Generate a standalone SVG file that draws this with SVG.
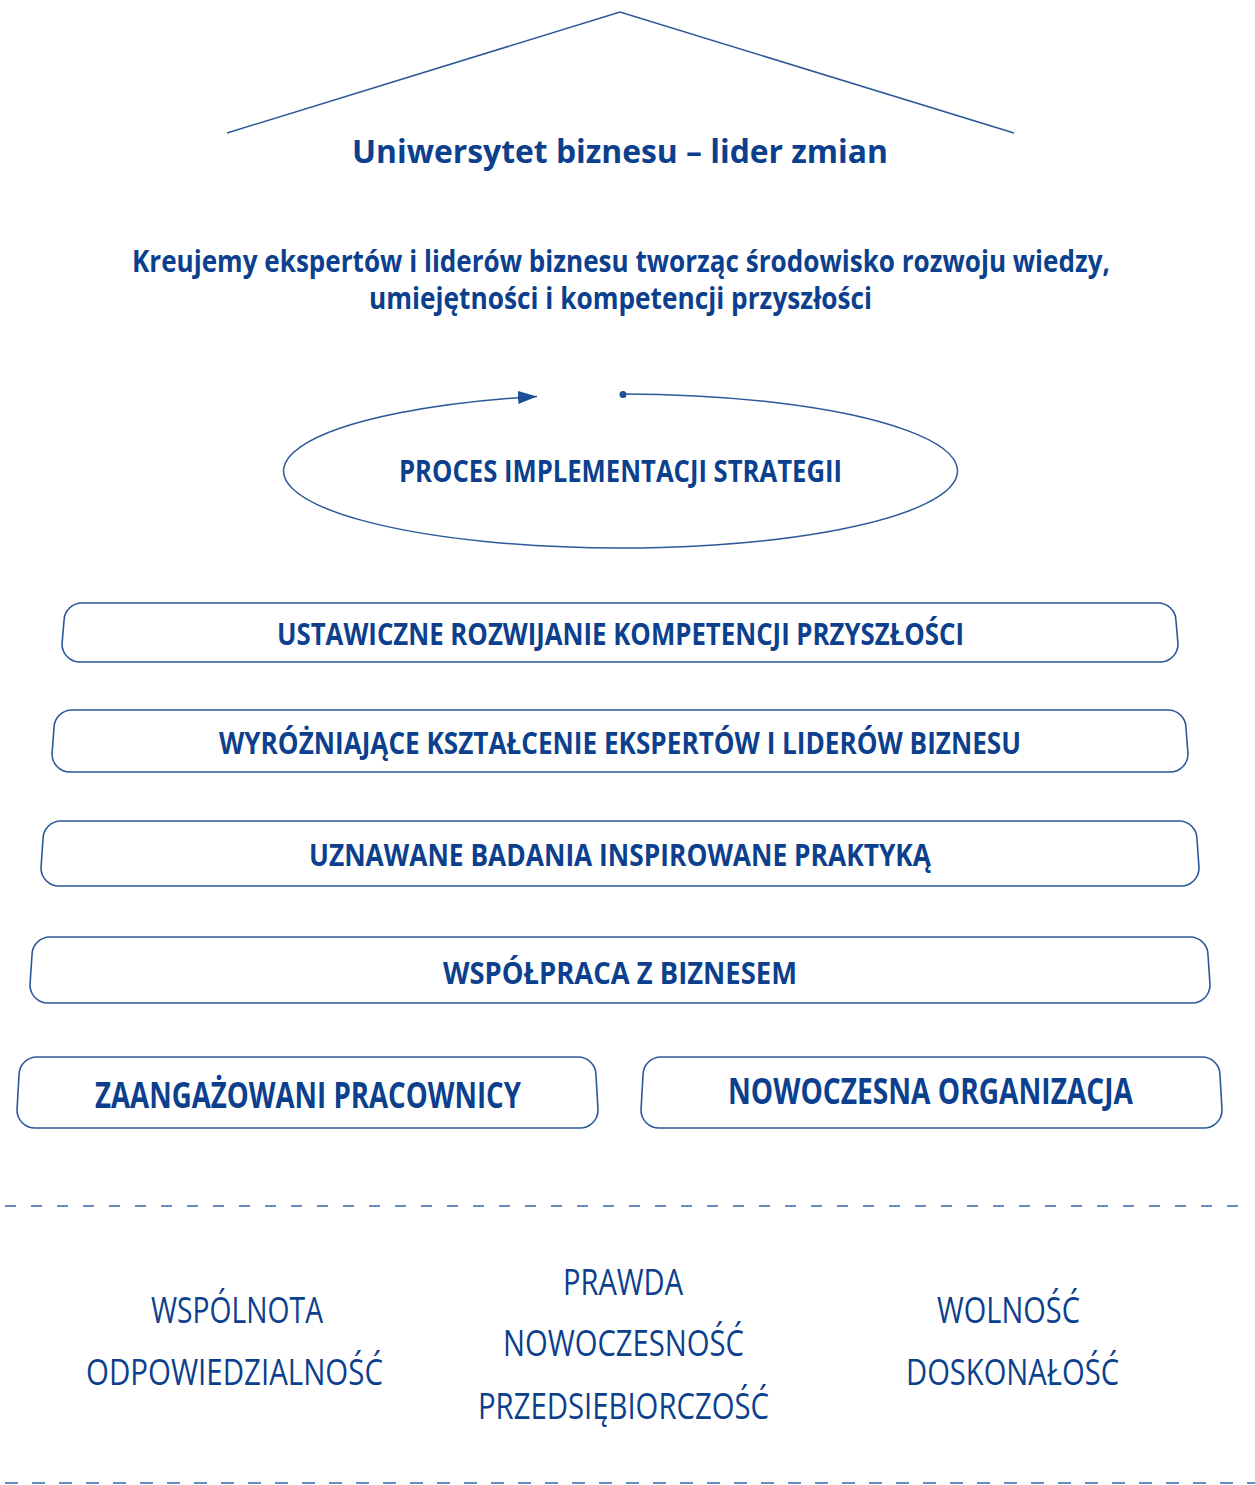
<svg xmlns="http://www.w3.org/2000/svg" width="1255" height="1485" viewBox="0 0 1255 1485">
<style>
  .t { font-family: "Open Sans", "Liberation Sans", sans-serif; fill: #0c3f8d; text-anchor: middle; }
  .b { font-weight: 700; }
  .sb { font-weight: 700; font-size: 31px; }
  .v { font-weight: 400; font-size: 37px; }
  .ln { fill: none; stroke: #2b5898; stroke-width: 1.5; }
  .box { fill: #ffffff; stroke: #2b5898; stroke-width: 1.6; }
  .dash { fill: none; stroke: #3568ad; stroke-width: 1.5; }
</style>
<defs>
  <marker id="arr" markerUnits="userSpaceOnUse" viewBox="0 0 19 13" refX="19" refY="6.5" markerWidth="19" markerHeight="13" orient="auto">
    <path d="M0,0 L19,6.5 L0,13 Z" fill="#1d4f95"/>
  </marker>
</defs>
<rect width="1255" height="1485" fill="#ffffff"/>

<g id="roof">
  <path class="ln" d="M227,133 L620,12 L1014,133"/>
  <text class="t b" x="620" y="163" font-size="33" textLength="536" lengthAdjust="spacingAndGlyphs">Uniwersytet biznesu – lider zmian</text>
</g>

<g id="mission">
  <text class="t b" x="621" y="272" font-size="30" textLength="978" lengthAdjust="spacingAndGlyphs">Kreujemy ekspertów i liderów biznesu tworząc środowisko rozwoju wiedzy,</text>
  <text class="t b" x="620.5" y="309" font-size="30" textLength="503" lengthAdjust="spacingAndGlyphs">umiejętności i kompetencji przyszłości</text>
</g>

<g id="connectors">
  <path class="ln" d="M623,394 A337,77 0 1 1 537,396.4" marker-end="url(#arr)"/>
  <circle cx="623" cy="394.5" r="3.5" fill="#1d4f95"/>
</g>

<g id="process">
  <text class="t b" x="620.5" y="482" font-size="31" textLength="443" lengthAdjust="spacingAndGlyphs">PROCES IMPLEMENTACJI STRATEGII</text>
</g>

<g id="box1">
  <path class="box" d="M82,603 H1158 A18,18 0 0 1 1176,621 L1178,644 A18,18 0 0 1 1160,662 H80 A18,18 0 0 1 62,644 L64,621 A18,18 0 0 1 82,603 Z"/>
  <text class="t sb" x="620.5" y="645" textLength="687" lengthAdjust="spacingAndGlyphs">USTAWICZNE ROZWIJANIE KOMPETENCJI PRZYSZŁOŚCI</text>
</g>

<g id="box2">
  <path class="box" d="M72,710 H1168 A18,18 0 0 1 1186,728 L1188,754 A18,18 0 0 1 1170,772 H70 A18,18 0 0 1 52,754 L54,728 A18,18 0 0 1 72,710 Z"/>
  <text class="t sb" x="620" y="754" textLength="802" lengthAdjust="spacingAndGlyphs">WYRÓŻNIAJĄCE KSZTAŁCENIE EKSPERTÓW I LIDERÓW BIZNESU</text>
</g>

<g id="box3">
  <path class="box" d="M61,821 H1179 A18,18 0 0 1 1197,839 L1199,868 A18,18 0 0 1 1181,886 H59 A18,18 0 0 1 41,868 L43,839 A18,18 0 0 1 61,821 Z"/>
  <text class="t sb" x="620" y="866" textLength="622" lengthAdjust="spacingAndGlyphs">UZNAWANE BADANIA INSPIROWANE PRAKTYKĄ</text>
</g>

<g id="box4">
  <path class="box" d="M50,937 H1190 A18,18 0 0 1 1208,955 L1210,985 A18,18 0 0 1 1192,1003 H48 A18,18 0 0 1 30,985 L32,955 A18,18 0 0 1 50,937 Z"/>
  <text class="t sb" x="620" y="984" textLength="354" lengthAdjust="spacingAndGlyphs">WSPÓŁPRACA Z BIZNESEM</text>
</g>

<g id="box5a">
  <path class="box" d="M37,1057 H578 A18,18 0 0 1 596,1075 L598,1110 A18,18 0 0 1 580,1128 H35 A18,18 0 0 1 17,1110 L19,1075 A18,18 0 0 1 37,1057 Z"/>
  <text class="t b" x="308" y="1108" font-size="35" textLength="426" lengthAdjust="spacingAndGlyphs">ZAANGAŻOWANI PRACOWNICY</text>
</g>

<g id="box5b">
  <path class="box" d="M661,1057 H1202 A18,18 0 0 1 1220,1075 L1222,1110 A18,18 0 0 1 1204,1128 H659 A18,18 0 0 1 641,1110 L643,1075 A18,18 0 0 1 661,1057 Z"/>
  <text class="t b" x="930.5" y="1104" font-size="35" textLength="405" lengthAdjust="spacingAndGlyphs">NOWOCZESNA ORGANIZACJA</text>
</g>

<g id="separators">
  <line class="dash" x1="5" y1="1206" x2="1240" y2="1206" stroke-dasharray="11 15"/>
  <line class="dash" x1="5" y1="1483" x2="1255" y2="1483" stroke-dasharray="13 14"/>
</g>

<g id="values">
  <text class="t v" x="237" y="1323" textLength="172" lengthAdjust="spacingAndGlyphs">WSPÓLNOTA</text>
  <text class="t v" x="234.5" y="1385" textLength="297" lengthAdjust="spacingAndGlyphs">ODPOWIEDZIALNOŚĆ</text>
  <text class="t v" x="623" y="1295" textLength="120" lengthAdjust="spacingAndGlyphs">PRAWDA</text>
  <text class="t v" x="623.5" y="1356" textLength="241" lengthAdjust="spacingAndGlyphs">NOWOCZESNOŚĆ</text>
  <text class="t v" x="623.5" y="1419" textLength="291" lengthAdjust="spacingAndGlyphs">PRZEDSIĘBIORCZOŚĆ</text>
  <text class="t v" x="1008.5" y="1323" textLength="143" lengthAdjust="spacingAndGlyphs">WOLNOŚĆ</text>
  <text class="t v" x="1012.5" y="1385" textLength="213" lengthAdjust="spacingAndGlyphs">DOSKONAŁOŚĆ</text>
</g>
</svg>
